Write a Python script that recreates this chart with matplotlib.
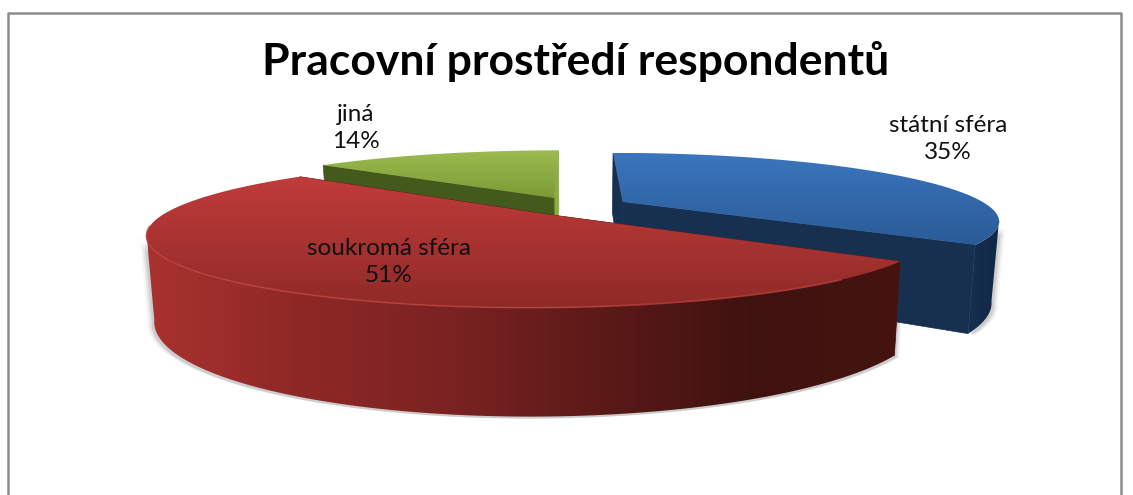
import matplotlib
matplotlib.use('Agg')
import matplotlib.pyplot as plt
import numpy as np
from matplotlib.colors import LinearSegmentedColormap
from matplotlib.patches import Polygon

# Slices in drawing direction, clockwise from twelve o'clock
categories = ['státní sféra', 'soukromá sféra', 'jiná']
shares = [35, 51, 14]
title = 'Pracovní prostředí respondentů'

# Perspective camera for the tilted disc (pixels)
CX, CY = 576, 206
RX, RY = 366, 64
PERSP = 0.267
DEPTH = 76.5
CONVERGE = 0.018
EXPLODE = 0.146


def project(u, v, bottom=False):
    k = 1 / (1 - PERSP * v)
    x = CX + RX * u * k
    y = CY + RY * v * k
    if bottom:
        x = CX + (x - CX) * (1 - CONVERGE)
        y = y + DEPTH * k
    return np.column_stack([x, y])


def gradient_poly(ax, pts, colors, z, horizontal=False):
    cmap = LinearSegmentedColormap.from_list('g', colors)
    x0, x1 = pts[:, 0].min(), pts[:, 0].max()
    y0, y1 = pts[:, 1].min(), pts[:, 1].max()
    grad = np.linspace(0, 1, 256)
    grad = grad.reshape(1, -1) if horizontal else grad.reshape(-1, 1)
    im = ax.imshow(grad, cmap=cmap, extent=(x0, x1, y1, y0), aspect='auto',
                   interpolation='bilinear', zorder=z)
    im.set_clip_path(Polygon(pts, transform=ax.transData))


def slice_points(a0, a1, off_u, off_v, bottom=False):
    th = np.radians(np.linspace(a0, a1, 120))
    return project(np.sin(th) + off_u, -np.cos(th) + off_v, bottom)


def apex(off_u, off_v, bottom=False):
    return project(np.array([off_u]), np.array([off_v]), bottom)


def front_range(a0, a1, off_u, off_v):
    # part of the arc that faces the viewer, between the two silhouette points
    th = np.arange(0, 360, 0.25)
    x = slice_points(0, 359.75, off_u, off_v)[:, 0]
    x = np.interp(th, np.linspace(0, 359.75, 120), x)
    return max(a0, th[np.argmax(x)]), min(a1, th[np.argmin(x)])


fig = plt.figure(figsize=(11.33, 4.95), dpi=100)
ax = fig.add_axes([0, 0, 1, 1])

# Slice angles and explosion offsets come from the shares
edges = np.concatenate([[0], np.cumsum(shares)]) * 3.6
mids = (edges[:-1] + edges[1:]) / 2
offs_u = EXPLODE * np.sin(np.radians(mids))
offs_v = -EXPLODE * np.cos(np.radians(mids))

styles = {
    'státní sféra': dict(top=['#3b76bd', '#2a5b97'], start='#17304f', end='#17304f',
                         rim=['#17304f', '#0f2746']),
    'soukromá sféra': dict(top=['#c03c3a', '#8f2a28'], start='#5a1a18', end='#5a1a18',
                           rim=['#a9322f', '#8e2826', '#7b2322', '#5c1a18', '#401210', '#45140f']),
    'jiná': dict(top=['#9cbc50', '#7b9a35'], start='#435a1c', end='#8bac3d',
                 rim=['#435a1c', '#435a1c']),
}

# Soft ground shadow below the slices
for i in range(len(shares)):
    a0, a1 = front_range(edges[i], edges[i + 1], offs_u[i], offs_v[i])
    if a1 <= a0:
        continue
    low = slice_points(a0, a1, offs_u[i], offs_v[i], bottom=True)
    up = slice_points(a0, a1, offs_u[i], offs_v[i])
    band = np.vstack([up, low[::-1]])
    for grow, alpha in [(1.016, 0.06), (1.011, 0.1), (1.006, 0.16)]:
        shadow = band.copy()
        shadow[:, 0] = CX + (shadow[:, 0] - CX) * grow
        shadow[:, 1] += 2
        ax.add_patch(Polygon(shadow, fc='#555555', ec='none', alpha=alpha, zorder=1))

# Back slices first, the big front slice last
z = 2
for i in [2, 0, 1]:
    st = styles[categories[i]]
    a0, a1 = edges[i], edges[i + 1]
    ou, ov = offs_u[i], offs_v[i]
    top_c, low_c = apex(ou, ov), apex(ou, ov, True)

    # radial cut faces
    for ang, col in [(a1, st['end']), (a0, st['start'])]:
        rim_t = slice_points(ang, ang, ou, ov)[:1]
        rim_b = slice_points(ang, ang, ou, ov, True)[:1]
        ax.add_patch(Polygon(np.vstack([top_c, rim_t, rim_b, low_c]), fc=col, ec=col, lw=0.5, zorder=z))
        z += 1

    # outer wall, only the arc turned towards the viewer
    w0, w1 = front_range(a0, a1, ou, ov)
    if w1 > w0:
        wall_t = slice_points(w0, w1, ou, ov)
        wall_b = slice_points(w0, w1, ou, ov, True)
        gradient_poly(ax, np.vstack([wall_t, wall_b[::-1]]), st['rim'], z, horizontal=True)
        z += 1

    # top surface
    top = np.vstack([top_c, slice_points(a0, a1, ou, ov)])
    gradient_poly(ax, top, st['top'], z)
    z += 1

# Light bevel along the front rim of the big slice
rim = slice_points(edges[1] + 14, edges[2] - 50, offs_u[1], offs_v[1])
ax.plot(rim[:, 0], rim[:, 1], color='#b8403d', lw=1.2, alpha=0.8, zorder=z, solid_capstyle='round')

# Chart frame, open at the bottom
ax.plot([8, 8, 1121, 1121], [495, 13, 13, 495], color='#8c8c8c', lw=1.8, zorder=z)

label_pos = [(948, 139), (389, 262), (356, 128)]
for name, val, (lx, ly) in zip(categories, shares, label_pos):
    ax.text(lx, ly, f'{name}\n{val}%', ha='center', va='center', fontsize=17.5,
            family='Lato', color='#111111', linespacing=1.4, zorder=z + 1)

ax.text(576, 61, title, ha='center', va='center', fontsize=32, fontweight='bold',
        family='Lato', color='black', zorder=z + 1)

ax.set_xlim(0, 1133)
ax.set_ylim(495, 0)
ax.axis('off')
fig.savefig('out.png', dpi=100, facecolor='white')
